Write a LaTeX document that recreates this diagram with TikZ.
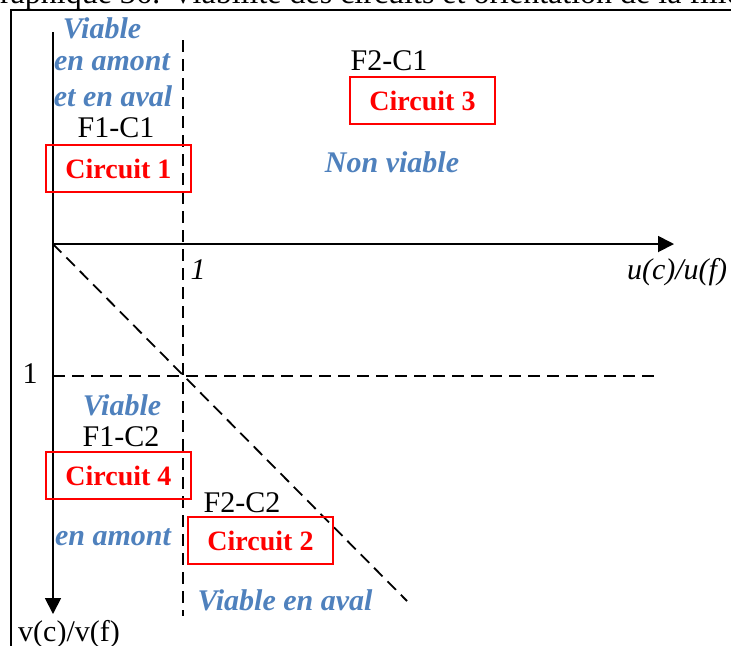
\documentclass[tikz,border=0pt]{standalone}
\usepackage{fontspec}
\setmainfont{Liberation Serif}
\usetikzlibrary{arrows.meta}
\definecolor{viabblue}{RGB}{79, 129, 189}
\definecolor{circred}{RGB}{255, 0, 0}
\begin{document}
\begin{tikzpicture}[
        x=0.5pt, y=-0.5pt,
        every node/.style={inner sep=0pt, font=\fontsize{15}{18}\selectfont},
        viab/.style={text=viabblue, font=\fontsize{15}{18}\selectfont\bfseries\itshape},
        circbox/.style={draw=circred, line width=1pt, text=circred, minimum width=72.5pt, minimum height=23.5pt, font=\fontsize{14}{17}\selectfont\bfseries},
        axis/.style={line width=0.9pt, -{Triangle[length=8pt, width=8pt]}},
        guide/.style={line width=0.9pt, dash pattern=on 6pt off 3.5pt}
      ]
        \useasboundingbox (0,0) rectangle (731,645);
        % frame and caption
        \node[anchor=base west, font=\fontsize{16}{19}\selectfont] (title) at (-23.5,3.5) {Graphique 36: Viabilité des circuits et orientation de la filière};
        \draw[line width=1.2pt] (11,660) -- (11,10) -- (745,10);
        % axes
        \coordinate (O) at (53,244);
        \coordinate (vtop) at (53,32);
        \coordinate (vend) at (53,614);
        \coordinate (uend) at (674,244);
        \draw[line width=0.9pt] (O) -- (vtop);
        \draw[axis] (O) -- (vend);
        \draw[axis] (O) -- (uend);
        % guides
        \coordinate (gtop) at (183,40);
        \coordinate (gbot) at (183,616);
        \coordinate (hl) at (53,376);
        \coordinate (hr) at (656,376);
        \coordinate (dend) at (407,601);
        \draw[guide] (gtop) -- (gbot);
        \draw[guide] (hl) -- (hr);
        \draw[guide] (O) -- (dend);
        % axis labels
        \node (one-u) at (198,270) {\itshape 1};
        \node (one-v) at (30,374) {1};
        \node (ulab) at (677,272) {\itshape u(c)/u(f)};
        \node (vlab) at (69,634) {v(c)/v(f)};
        % top left
        \node[viab] (viab1) at (102,28) {Viable};
        \node[viab] (viab2) at (112,62) {en amont};
        \node[viab] (viab3) at (113,96) {et en aval};
        \node (f1c1) at (116,128) {F1-C1};
        \node[circbox] (c1) at (118.5,168.5) {Circuit 1};
        % top right
        \node (f2c1) at (389,61) {F2-C1};
        \node[circbox] (c3) at (422.5,100.5) {Circuit 3};
        \node[viab] (nonviab) at (392,162) {Non viable};
        % bottom left
        \node[viab] (viab4) at (122,405) {Viable};
        \node (f1c2) at (121,437) {F1-C2};
        \node[circbox] (c4) at (118.5,475.5) {Circuit 4};
        \node[viab] (amont) at (113,537) {en amont};
        % bottom right
        \node (f2c2) at (242,503) {F2-C2};
        \node[circbox] (c2) at (260.5,540.5) {Circuit 2};
        \node[viab] (aval) at (285,600) {Viable en aval};
      \end{tikzpicture}
\end{document}
